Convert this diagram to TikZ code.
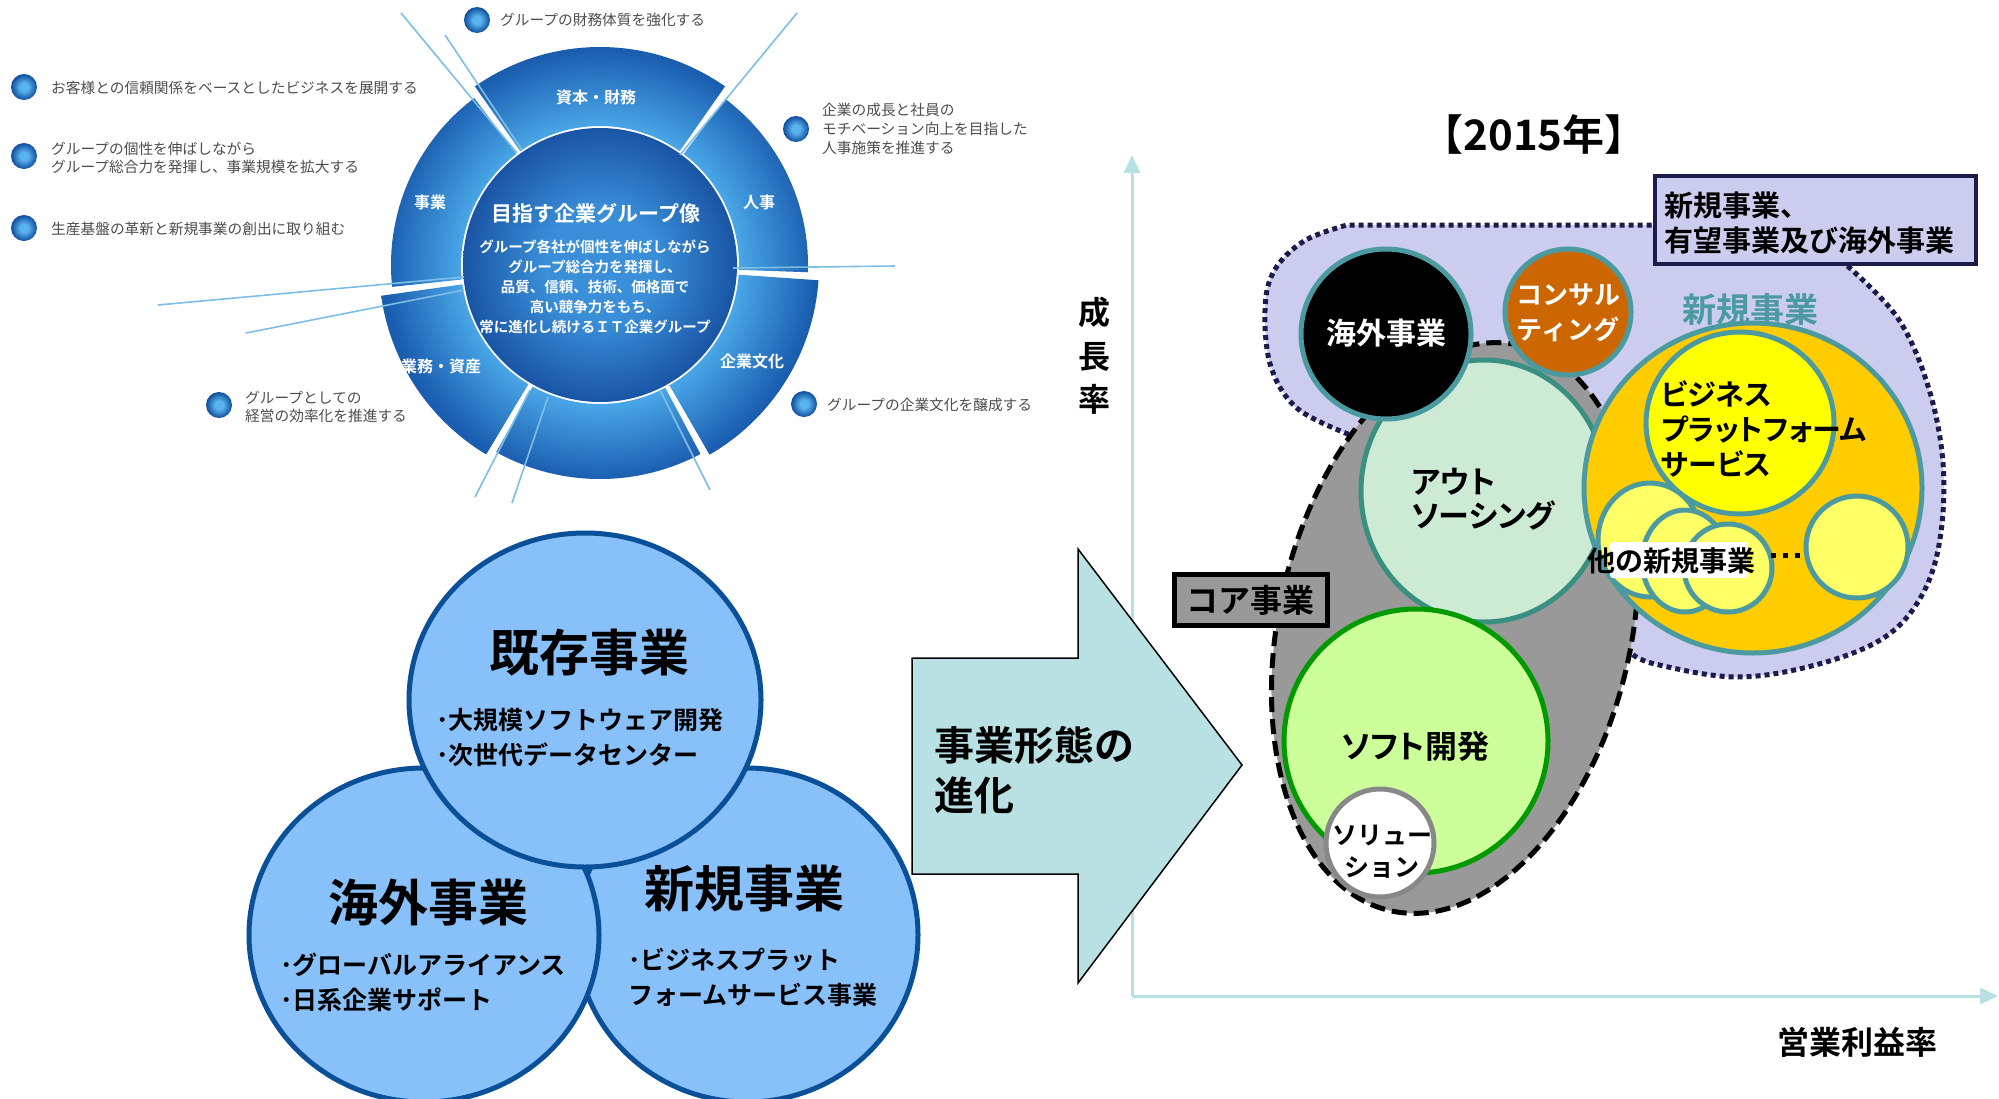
\documentclass[tikz,border=0pt]{standalone}
\usepackage{fontspec}
\setmainfont{Noto Sans CJK JP}[BoldFont={Noto Sans CJK JP Bold}]
\newfontfamily\jpp{Noto Sans CJK JP}[BoldFont={Noto Sans CJK JP Bold},RawFeature=+palt]
\usetikzlibrary{arrows.meta}
\definecolor{lav}{HTML}{CCCCEE}
\definecolor{navy}{HTML}{1C1C4C}
\definecolor{tealb}{HTML}{4A9AA0}
\definecolor{outb}{HTML}{3A9080}
\definecolor{outf}{HTML}{CCEAD4}
\definecolor{softf}{HTML}{CCFF99}
\definecolor{softb}{HTML}{009900}
\definecolor{coref}{HTML}{999999}
\definecolor{orng}{HTML}{CC6600}
\definecolor{gold}{HTML}{FFCC00}
\definecolor{yel}{HTML}{FFFF00}
\definecolor{pyel}{HTML}{FFFF66}
\definecolor{axisc}{HTML}{B8DFE3}
\definecolor{arrowf}{HTML}{B9E1E4}
\definecolor{vennf}{HTML}{88C0FA}
\definecolor{vennb}{HTML}{0A5099}
\definecolor{bultxt}{HTML}{4D4D4D}
\definecolor{ringin}{HTML}{4AA8E8}
\definecolor{ringout}{HTML}{1A5CAE}
\definecolor{innc}{HTML}{3A8FD8}
\definecolor{inne}{HTML}{1A55A5}
\definecolor{ballc}{HTML}{5AB2EE}
\definecolor{balle}{HTML}{0E4D9C}
\definecolor{decoc}{HTML}{7DBDE6}
\definecolor{solb}{HTML}{888888}
\pgfdeclareradialshading{ringshade}{\pgfpoint{0bp}{0bp}}{color(0bp)=(ringin);color(14.9bp)=(ringin);color(23.6bp)=(ringout);color(50bp)=(ringout)}
\pgfdeclareradialshading{coreshade}{\pgfpoint{0bp}{0bp}}{color(0bp)=(innc);color(10bp)=(innc);color(25bp)=(inne);color(50bp)=(inne)}
\pgfdeclareradialshading{ballshade}{\pgfpoint{0bp}{0bp}}{color(0bp)=(ballc);color(8bp)=(ballc);color(25bp)=(balle);color(50bp)=(balle)}
\newcommand{\fsz}[1]{\fontsize{#1}{#1}\selectfont}
\tikzset{
  bul/.style={font=\fontsize{14.7}{18.8}\selectfont, text=bultxt, anchor=west, inner sep=0pt, align=left},
  seglbl/.style={font=\bfseries\fsz{16}, text=white, inner sep=0pt},
  decol/.style={draw=decoc, line width=1.6pt},
  vennshape/.style={fill=vennf, draw=vennb, line width=5pt},
  vennttl/.style={font=\bfseries\fsz{50}, inner sep=0pt},
  vennsub/.style={font=\bfseries\fontsize{25}{35}\selectfont, anchor=west, align=left, inner sep=0pt},
  bub/.style={line width=5pt, draw=tealb},
  lbl/.style={font=\bfseries\fsz{#1}, inner sep=0pt},
  plbl/.style={font=\jpp\bfseries\fsz{#1}, inner sep=0pt},
}
\begin{document}
\begin{tikzpicture}[x=1pt,y=-1pt]
\useasboundingbox (0,0) rectangle (1999,1098);
\fill[white] (0,0) rectangle (1999,1098);

% ===== top-left ring diagram =====
\begin{scope}[shift={(600,265)}, y=1pt]
  \foreach \a/\b/\rr in {55/125/218, 127/186/209, 188/239/221, 241/298/214, 300/356/219, 358/413/208}{
    \begin{scope}
      \clip (\a:139) arc[start angle=\a, end angle=\b, radius=139] -- (\b:\rr) arc[start angle=\b, end angle=\a, radius=\rr] -- cycle;
      \shade[shading=ringshade] (0,0) circle (230);
    \end{scope}
  }
  \shade[shading=coreshade] (0,0) circle (137);
\end{scope}
\draw[decol] (401,13) -- (517,153);
\draw[decol] (445,35) -- (522,150);
\draw[decol] (797,13) -- (680,155);
\draw[decol] (733,268) -- (895,266);
\draw[decol] (158,305) -- (464,277);
\draw[decol] (246,333) -- (464,290);
\draw[decol] (475,497) -- (530,390);
\draw[decol] (512,503) -- (548,397);
\draw[decol] (710,490) -- (660,390);

\node[seglbl] (sg1) at (596,97) {資本・財務};
\node[seglbl] (sg2) at (430,202) {事業};
\node[seglbl] (sg3) at (759,202) {人事};
\node[seglbl] (sg4) at (441,366) {業務・資産};
\node[seglbl] (sg5) at (752,361) {企業文化};
\node[font=\bfseries\fsz{21}, text=white, inner sep=0pt] (core) at (596,213) {目指す企業グループ像};
\node[font=\bfseries\fontsize{14.5}{20}\selectfont, text=white, align=center, inner sep=0pt] (coretxt) at (595,287)
  {グループ各社が個性を伸ばしながら\\グループ総合力を発揮し、\\品質、信頼、技術、価格面で\\高い競争力をもち、\\常に進化し続けるＩＴ企業グループ};

% bullets
\foreach \x/\y in {477/20, 24/87, 24/156, 24/228, 219/405, 796/129, 804/404}{
  \shade[shading=ballshade] (\x,\y) circle (13);
}
\node[bul] (t1) at (500,20) {グループの財務体質を強化する};
\node[bul] (t2) at (51,88) {お客様との信頼関係をベースとしたビジネスを展開する};
\node[bul] (t3) at (51,158) {グループの個性を伸ばしながら\\グループ総合力を発揮し、事業規模を拡大する};
\node[bul] (t4) at (51,229) {生産基盤の革新と新規事業の創出に取り組む};
\node[bul] (t5) at (245,407) {グループとしての\\経営の効率化を推進する};
\node[bul] (t6) at (822,129) {企業の成長と社員の\\モチベーション向上を目指した\\人事施策を推進する};
\node[bul] (t7) at (827,405) {グループの企業文化を醸成する};

% ===== Venn =====
\draw[vennshape] (747,935) ellipse [x radius=171, y radius=167];
\draw[vennshape] (424,935) ellipse [x radius=175, y radius=167];
\draw[vennshape] (585,700) ellipse [x radius=176, y radius=167];
\node[vennttl] (v1) at (589,653) {既存事業};
\node[vennsub] (v1s) at (436,738) {･大規模ソフトウェア開発\\･次世代データセンター};
\node[vennttl] (v2) at (428,903) {海外事業};
\node[vennsub] (v2s) at (280,982) {･グローバルアライアンス\\･日系企業サポート};
\node[vennttl] (v3) at (744,889) {新規事業};
\node[vennsub] (v3s) at (628,977) {･ビジネスプラット\\フォームサービス事業};

% ===== axes =====
\coordinate (org) at (1132,996);
\coordinate (ytop) at (1132,155);
\coordinate (xend) at (1998,996);
\draw[axisc, line width=3pt, -{Triangle[length=18pt,width=16pt]}] (org) -- (ytop);
\draw[axisc, line width=3pt, -{Triangle[length=18pt,width=16pt]}] (org) -- (xend);

% ===== big arrow =====
\draw[fill=arrowf, draw=black, line width=1.5pt] (912,658) -- (1078,658) -- (1078,549) -- (1242,765) -- (1078,983) -- (1078,874) -- (912,874) -- cycle;
\node[font=\bfseries\fontsize{40}{50}\selectfont, align=left, anchor=west, inner sep=0pt] (evo) at (934,770) {事業形態の\\進化};

% ===== right chart =====
\node[lbl=42] (year) at (1534,134) {【2015年】};
\node[font=\bfseries\fontsize{32}{43.5}\selectfont, align=center, inner sep=0pt] (ylab) at (1094,356) {成\\長\\率};
\node[lbl=32] (xlab) at (1857,1042) {営業利益率};

% lavender region
\path[fill=lav, draw=navy, line width=5pt, dash pattern=on 5pt off 4pt]
  (1450,560) -- plot[smooth,tension=0.6] coordinates {(1353,436) (1298,409) (1271,367) (1265,310) (1274,271) (1304,241) (1347,225)}
  -- (1800,225) -- plot[smooth,tension=0.6] coordinates {(1843,262) (1897,317) (1928,386) (1943,463) (1940,539) (1922,595) (1885,637) (1819,664) (1737,677) (1655,664) (1631,653)} -- cycle;
\draw[fill=lav, draw=navy, line width=4pt] (1655,176) rectangle (1976,264);
\node[font=\bfseries\fontsize{29}{35}\selectfont, align=left, anchor=west, inner sep=0pt] (newlbl) at (1664,223) {新規事業、\\有望事業及び海外事業};

% core ellipse
\draw[fill=coref, draw=black, line width=5pt, dash pattern=on 15pt off 7pt, rotate around={77:(1455,628)}] (1455,628) ellipse [x radius=290, y radius=176];
\draw[fill=outf, draw=outb, line width=5pt] (1484,491) ellipse [x radius=123, y radius=131];
\node[plbl=31, align=left, anchor=west, font=\jpp\bfseries\fontsize{31}{34}\selectfont] (outs) at (1411,499) {アウト\\ソーシング};
\draw[fill=softf, draw=softb, line width=5pt] (1416,741) circle (132);
\node[plbl=32] (soft) at (1415,746) {ソフト開発};
\draw[fill=white, draw=solb, line width=5pt] (1380,843) circle (54);
\node[font=\bfseries\fontsize{25}{32}\selectfont, align=center, inner sep=0pt] (sol) at (1382,852) {ソリュー\\ション};

\draw[bub, fill=black] (1386,334) circle (85);
\node[lbl=30, text=white] (kaigai) at (1386,333) {海外事業};
\draw[bub, fill=orng] (1568,312) circle (63);
\node[font=\bfseries\fontsize{26}{35}\selectfont, align=center, text=white, inner sep=0pt] (consul) at (1568,313) {コンサル\\ティング};

\node[lbl=34, text=tealb] (shinki) at (1750,310) {新規事業};
\draw[bub, fill=gold] (1753,488) ellipse [x radius=169, y radius=165];
\draw[bub, fill=yel] (1740,423) ellipse [x radius=94, y radius=91];
\node[font=\jpp\bfseries\fontsize{29}{35}\selectfont, align=left, anchor=west, inner sep=0pt] (bps) at (1661,429) {ビジネス\\プラットフォーム\\サービス};
\draw[bub, fill=pyel] (1650,540) ellipse [x radius=52, y radius=57];
\draw[bub, fill=pyel] (1685,561) ellipse [x radius=43, y radius=51];
\draw[bub, fill=pyel] (1728,568) ellipse [x radius=44, y radius=44];
\draw[bub, fill=pyel] (1857,547) circle (51);
\fill[white, rounded corners=3pt] (1610,542) rectangle (1748,578);
\node[lbl=28] (other) at (1671,561) {他の新規事業};
\foreach \dx in {0,12,24}{ \fill (1771+\dx,553) rectangle ++(5,5); }

% core label box
\draw[fill=coref, draw=black, line width=5pt] (1174,574) rectangle (1327,625);
\node[lbl=32] (corelbl) at (1250,600) {コア事業};
\end{tikzpicture}
\end{document}
